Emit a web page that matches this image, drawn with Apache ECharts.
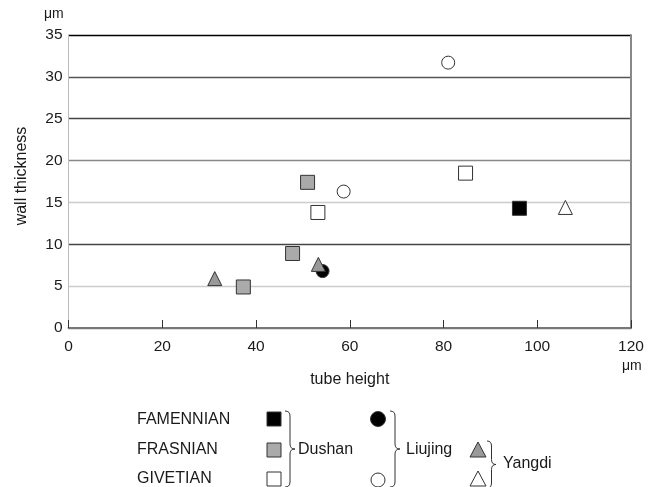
<!DOCTYPE html>
<html>
<head>
<meta charset="utf-8">
<script src="https://cdn.jsdelivr.net/npm/echarts@6/dist/echarts.min.js"></script>
<style>html,body{margin:0;padding:0;background:#fff}#c{width:655px;height:487px}</style>
</head>
<body>
<div id="c"></div>
<script>
// ---- data ----
var xTicks = [0, 20, 40, 60, 80, 100, 120];
var yTicks = [0, 5, 10, 15, 20, 25, 30, 35];
var dushanFamennian = [[96.2, 14.3]];
var dushanFrasnian = [[51.0, 17.4], [47.8, 8.9], [37.3, 4.9]];
var dushanGivetian = [[53.2, 13.8], [84.7, 18.5]];
var liujingFamennian = [[54.2, 6.8]];
var liujingGivetian = [[58.7, 16.3], [81.0, 31.7]];
var yangdiFrasnian = [[31.2, 5.9], [53.3, 7.6]];
var yangdiGivetian = [[106.0, 14.4]];
var stageLabels = ['FAMENNIAN', 'FRASNIAN', 'GIVETIAN'];
var localityLabels = ['Dushan', 'Liujing', 'Yangdi'];

var FONT = '"Liberation Sans", Arial, sans-serif';
var chart = echarts.init(document.getElementById('c'), null, {renderer: 'canvas'});

function brace(x, top, bottom, w) {
  var mid = (top + bottom) / 2, h = w / 2, r = 5;
  var st = {stroke: '#333', lineWidth: 1, fill: null};
  return [
    {type: 'bezierCurve', shape: {x1: x, y1: top, x2: x + h, y2: top + r, cpx1: x + h, cpy1: top}, style: st},
    {type: 'line', shape: {x1: x + h, y1: top + r, x2: x + h, y2: mid - r}, style: st},
    {type: 'bezierCurve', shape: {x1: x + h, y1: mid - r, x2: x + w, y2: mid, cpx1: x + h, cpy1: mid}, style: st},
    {type: 'bezierCurve', shape: {x1: x + w, y1: mid, x2: x + h, y2: mid + r, cpx1: x + h, cpy1: mid}, style: st},
    {type: 'line', shape: {x1: x + h, y1: mid + r, x2: x + h, y2: bottom - r}, style: st},
    {type: 'bezierCurve', shape: {x1: x + h, y1: bottom - r, x2: x, y2: bottom, cpx1: x + h, cpy1: bottom}, style: st}
  ];
}

function sc(name, data, symbol, size, fill, z) {
  return {
    name: name, type: 'scatter', data: data, symbol: symbol, symbolSize: size, z: z || 2,
    itemStyle: {color: fill, borderColor: '#333', borderWidth: 1, opacity: 1}
  };
}

function T(text, x, y, extra) {
  return {type: 'text', x: x, y: y, style: Object.assign({text: text, verticalAlign: 'middle', fill: '#1a1a1a', font: '16px ' + FONT}, extra || {})};
}
var graphics = [
  T('μm', 44, 14, {font: '14px ' + FONT}),
  T('μm', 622, 366, {font: '14px ' + FONT}),
  {type: 'text', x: 22, y: 176, rotation: Math.PI / 2, style: {text: 'wall thickness', fill: '#1a1a1a', font: '16px ' + FONT, align: 'center', verticalAlign: 'middle'}},
  T(stageLabels[0], 137, 420),
  T(stageLabels[1], 137, 450),
  T(stageLabels[2], 137, 479),
  {type: 'rect', shape: {x: 267, y: 412, width: 14, height: 14}, style: {fill: '#000', stroke: '#333', lineWidth: 1}},
  {type: 'rect', shape: {x: 267, y: 443, width: 14, height: 14}, style: {fill: '#aaa', stroke: '#333', lineWidth: 1}},
  {type: 'rect', shape: {x: 267, y: 472, width: 14, height: 14}, style: {fill: '#fff', stroke: '#333', lineWidth: 1}},
  T(localityLabels[0], 298, 450),
  {type: 'circle', shape: {cx: 378, cy: 419, r: 7.5}, style: {fill: '#000', stroke: '#333', lineWidth: 1}},
  {type: 'circle', shape: {cx: 378, cy: 480, r: 7}, style: {fill: '#fff', stroke: '#333', lineWidth: 1}},
  T(localityLabels[1], 406, 450),
  {type: 'polygon', shape: {points: [[478, 442], [470, 457], [486, 457]]}, style: {fill: '#999', stroke: '#333', lineWidth: 1}},
  {type: 'polygon', shape: {points: [[478, 471], [470, 486], [486, 486]]}, style: {fill: '#fff', stroke: '#333', lineWidth: 1}},
  T(localityLabels[2], 503, 464)
].concat(brace(285, 411, 487, 10), brace(390, 411, 487, 10), brace(487, 441, 488, 9));

chart.setOption({
  animation: false,
  backgroundColor: '#fff',
  grid: {left: 68.5, right: 24, top: 35, bottom: 159, containLabel: false},
  xAxis: {
    type: 'value', min: xTicks[0], max: xTicks[xTicks.length - 1], interval: 20,
    name: 'tube height', nameLocation: 'middle', nameGap: 44,
    nameTextStyle: {color: '#1a1a1a', fontSize: 16, fontFamily: FONT},
    axisLine: {show: true, lineStyle: {color: '#777', width: 2}},
    axisTick: {show: true, inside: true, length: 8, lineStyle: {color: '#333', width: 1}},
    axisLabel: {color: '#1a1a1a', fontSize: 15.5, fontFamily: FONT, margin: 11},
    splitLine: {show: false}
  },
  yAxis: [{
    type: 'value', min: yTicks[0], max: yTicks[yTicks.length - 1], interval: 5,
    axisLine: {show: true, lineStyle: {color: '#bbb', width: 1}},
    axisTick: {show: false},
    axisLabel: {color: '#1a1a1a', fontSize: 15.5, fontFamily: FONT, margin: 6},
    splitLine: {show: true, lineStyle: {width: 1.4, color: ['#777', '#ccc', '#444', '#ccc', '#888', '#444', '#555', '#000']}}
  }, {
    type: 'value', position: 'right', min: yTicks[0], max: yTicks[yTicks.length - 1], interval: 5,
    axisLine: {show: true, lineStyle: {color: '#888', width: 2}},
    axisTick: {show: false}, axisLabel: {show: false}, splitLine: {show: false}
  }],
  series: [
    sc('Dushan FAMENNIAN', dushanFamennian, 'rect', 14, '#000'),
    sc('Dushan FRASNIAN', dushanFrasnian, 'rect', 14, '#aaa'),
    sc('Dushan GIVETIAN', dushanGivetian, 'rect', 14, '#fff'),
    sc('Liujing FAMENNIAN', liujingFamennian, 'circle', 13, '#000'),
    sc('Liujing GIVETIAN', liujingGivetian, 'circle', 13, '#fff'),
    sc('Yangdi FRASNIAN', yangdiFrasnian, 'triangle', 14, '#999', 3),
    sc('Yangdi GIVETIAN', yangdiGivetian, 'triangle', 14, '#fff', 3)
  ],
  graphic: graphics
});
</script>
</body>
</html>
